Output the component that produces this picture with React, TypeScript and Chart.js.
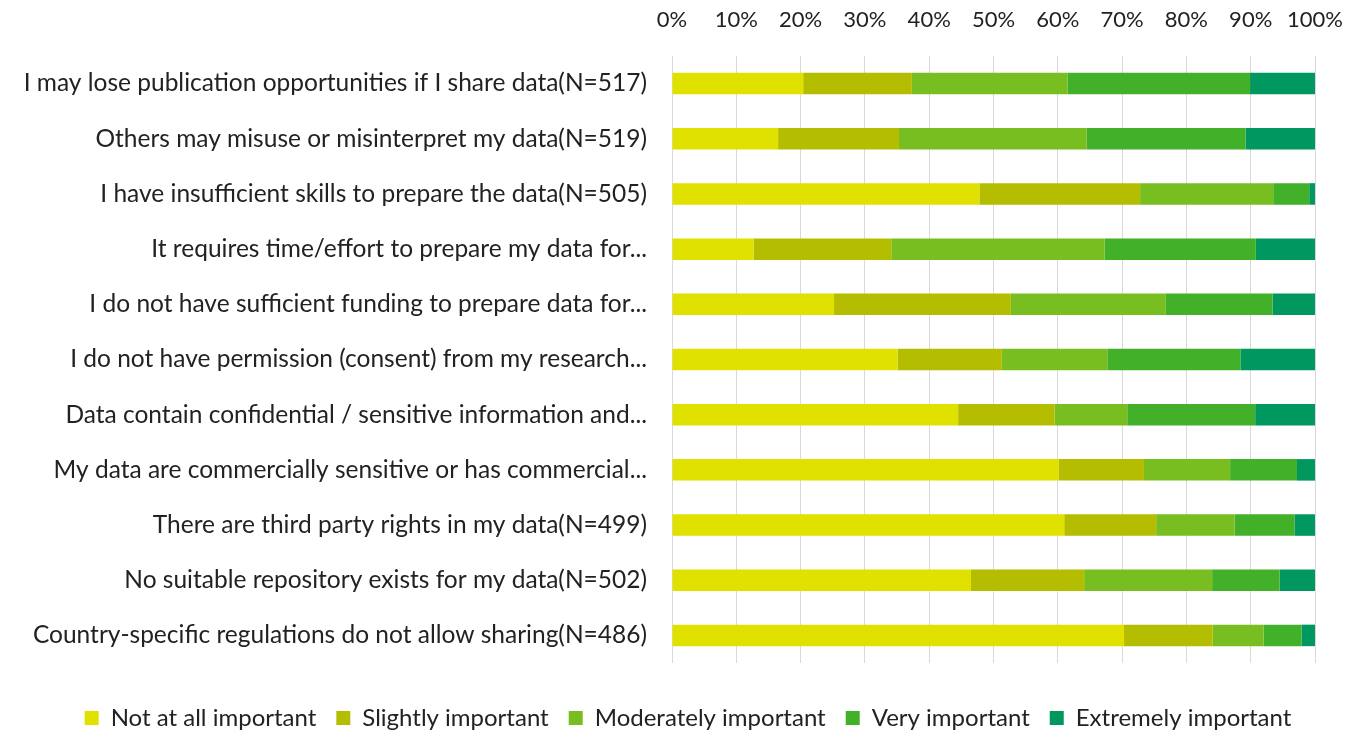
import React, { useEffect, useRef } from "react";
import { Chart, registerables } from "chart.js";

Chart.register(...registerables);

const categories = [
  "I may lose publication opportunities if I share data(N=517)",
  "Others may misuse or misinterpret my data(N=519)",
  "I have insufficient skills to prepare the data(N=505)",
  "It requires time/effort to prepare my data for...",
  "I do not have sufficient funding to prepare data for...",
  "I do not have permission (consent) from my research...",
  "Data contain confidential / sensitive information and...",
  "My data are commercially sensitive or has commercial...",
  "There are third party rights in my data(N=499)",
  "No suitable repository exists for my data(N=502)",
  "Country-specific regulations do not allow sharing(N=486)",
];

const notAtAll = [20.4, 16.5, 47.8, 12.7, 25.2, 35.1, 44.5, 60.1, 61.0, 46.5, 70.3];
const slightly = [16.9, 18.8, 25.0, 21.4, 27.5, 16.2, 15.0, 13.3, 14.3, 17.6, 13.8];
const moderately = [24.2, 29.2, 20.7, 33.2, 24.1, 16.4, 11.3, 13.4, 12.2, 19.9, 7.9];
const very = [28.4, 24.7, 5.6, 23.5, 16.6, 20.7, 19.9, 10.4, 9.3, 10.5, 5.9];
const extremely = [10.1, 10.8, 0.9, 9.2, 6.6, 11.6, 9.3, 2.8, 3.2, 5.5, 2.1];

const seriesNames = [
  "Not at all important",
  "Slightly important",
  "Moderately important",
  "Very important",
  "Extremely important",
];
const seriesColors = ["#E1E100", "#B5BD00", "#78BE20", "#43B02A", "#00985E"];

const legendShift = {
  id: "legendShift",
  afterLayout(chart: any) {
    if (chart.legend) chart.legend.left += 61;
  },
};

export default function App() {
  const ref = useRef<HTMLCanvasElement | null>(null);

  useEffect(() => {
    if (!ref.current) return;
    const values = [notAtAll, slightly, moderately, very, extremely];
    const family = "Lato, 'Open Sans', sans-serif";
    const chart = new Chart(ref.current, {
      type: "bar",
      data: {
        labels: categories,
        datasets: values.map((v, i) => ({
          label: seriesNames[i],
          data: v,
          backgroundColor: seriesColors[i],
          borderWidth: 0,
          barPercentage: 0.39,
          categoryPercentage: 1,
        })),
      },
      plugins: [legendShift],
      options: {
        indexAxis: "y",
        animation: false,
        responsive: false,
        maintainAspectRatio: false,
        layout: { padding: { left: 0, right: 34, top: 0, bottom: -9 } },
        scales: {
          x: {
            position: "top",
            stacked: true,
            min: 0,
            max: 100,
            border: { display: false },
            grid: { color: "#d9d9d9", lineWidth: 1, drawTicks: false },
            ticks: {
              stepSize: 10,
              padding: 23,
              color: "#222",
              font: { family, size: 22 },
              callback: (v: any) => v + "%",
            },
            afterFit: (s: any) => {
              s.height = 56;
              s.paddingLeft = 0;
              s.paddingRight = 0;
            },
          },
          y: {
            stacked: true,
            border: { display: false },
            grid: { display: false, drawTicks: false },
            ticks: { padding: 25, color: "#222", font: { family, size: 24.5 }, autoSkip: false },
            afterFit: (s: any) => {
              s.width = 672;
              s.paddingTop = 0;
              s.paddingBottom = 0;
            },
          },
        },
        plugins: {
          legend: {
            position: "bottom",
            title: { display: true, text: " ", font: { family, size: 10 }, padding: { top: 0, bottom: 11 } },
            labels: {
              font: { family, size: 24 },
              color: "#222",
              boxWidth: 14,
              boxHeight: 14,
              padding: 20,
            },
          },
          tooltip: { enabled: false },
        },
      },
    });
    return () => chart.destroy();
  }, []);

  return (
    <div style={{ position: "absolute", left: 0, top: 0, width: 1349, height: 731, background: "#fff", overflow: "hidden" }}>
      <canvas ref={ref} width={1349} height={731} />
    </div>
  );
}
